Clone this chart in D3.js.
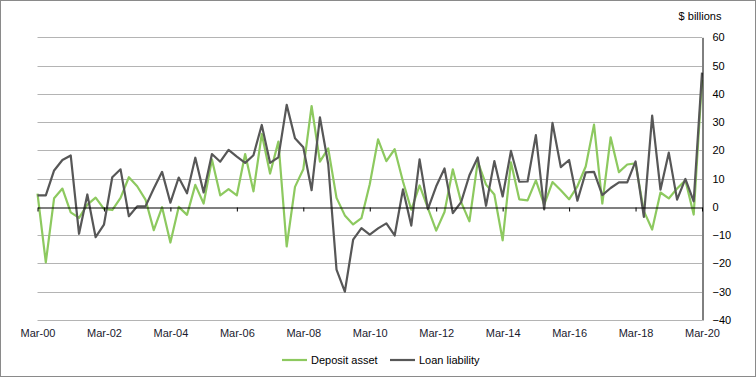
<!DOCTYPE html>
<html>
<head>
<meta charset="utf-8">
<script src="https://cdn.jsdelivr.net/npm/d3@7"></script>
<style>
  body { margin: 0; background: #fff; }
  svg text { font-family: "Liberation Sans", Arial, sans-serif; }
</style>
</head>
<body>
<svg id="chart" width="756" height="378"></svg>
<script>
// quarterly, Mar-00 .. Mar-20
const quarters = [];
for (let yr = 0; yr <= 20; yr++) {
  ["Mar", "Jun", "Sep", "Dec"].forEach(m => {
    if (yr === 20 && m !== "Mar") return;
    quarters.push(m + "-" + String(yr).padStart(2, "0"));
  });
}

const depositAsset = [
  4.7, -19.6, 3.1, 6.5, -1.9, -3.9, 0.8, 3.3, -0.7, -1.1,
  3.2, 10.5, 7.3, 2.6, -8.2, -0.1, -12.6, 0, -2.8, 7.8,
  1.2, 16.8, 4.1, 6.3, 4.1, 18.7, 5.5, 25.8, 11.8, 23.1,
  -14.0, 7.1, 13.3, 35.7, 16.0, 20.7, 3.2, -3.0, -6.2, -4.0,
  8.0, 23.9, 16.2, 20.4, 9.0, -1.0, 7.6, -0.4, -8.4, -1.8,
  13.3, 1.7, -5.1, 16.0, 7.9, 4.4, -11.8, 15.8, 2.7, 2.3,
  9.4, 0.8, 8.8, 5.9, 2.7, 7.3, 14.3, 29.1, 1.2, 24.6,
  12.3, 15.0, 15.4, -1.5, -8.0, 5.1, 3.0, 6.5, 9.4, -2.7,
  45.0
];

const loanLiability = [
  4.1, 4.1, 12.9, 16.6, 18.2, -9.5, 4.4, -10.7, -6.3, 10.5,
  13.3, -3.3, 0.2, 0.2, 6.5, 12.4, 1.5, 10.4, 4.8, 17.4,
  5.1, 18.7, 16.0, 20.2, 17.8, 15.6, 18.3, 29.0, 15.6, 17.5,
  36.1, 24.3, 21.1, 5.9, 31.7, 15.1, -22.2, -30.0, -11.6, -7.5,
  -9.8, -7.6, -5.8, -10.1, 6.2, -6.6, 16.8, -0.8, 7.3, 13.6,
  -2.2, 1.7, 11.2, 17.5, 0.4, 16.2, 3.7, 19.8, 8.9, 9.0,
  25.4, -0.9, 29.7, 14.1, 16.6, 2.2, 12.2, 12.4, 4.2, 6.7,
  8.7, 8.7, 16.1, -3.5, 32.3, 6.1, 19.2, 2.6, 9.9, 2.0,
  47.5
];

const yTicks = [-40, -30, -20, -10, 0, 10, 20, 30, 40, 50, 60];

const series = [
  { name: "Deposit asset", values: depositAsset, color: "#8dc95f" },
  { name: "Loan liability", values: loanLiability, color: "#575757" }
];

const svg = d3.select("#chart");
const plotLeft = 37.5, plotRight = 702, plotTop = 37.3, plotBottom = 320;

const x = d3.scalePoint().domain(quarters).range([plotLeft, plotRight]);
const y = d3.scaleLinear().domain([-40, 60]).range([plotBottom, plotTop]);

// frame
svg.append("rect")
  .attr("x", 0.5).attr("y", 0.5)
  .attr("width", 755).attr("height", 376)
  .attr("fill", "none").attr("stroke", "#8a8a8a");

// gridlines
svg.append("g")
  .selectAll("line")
  .data(yTicks.filter(d => d !== 0))
  .join("line")
  .attr("x1", plotLeft).attr("x2", plotRight)
  .attr("y1", d => Math.round(y(d)) + 0.5)
  .attr("y2", d => Math.round(y(d)) + 0.5)
  .attr("stroke", "#b4b4b4");

// lines
const line = d3.line()
  .x((d, i) => x(quarters[i]))
  .y(d => y(d));

svg.append("g")
  .selectAll("path")
  .data(series)
  .join("path")
  .attr("d", d => line(d.values))
  .attr("fill", "none")
  .attr("stroke", d => d.color)
  .attr("stroke-width", 2.2)
  .attr("stroke-linejoin", "round");

// zero axis with ticks
const labelQuarters = quarters.filter((q, i) => i % 8 === 0);
const zeroAxis = svg.append("g")
  .attr("transform", `translate(0,${Math.round(y(0)) + 0.5})`)
  .call(d3.axisBottom(x).tickValues(labelQuarters).tickSize(4).tickSizeOuter(0).tickFormat(""));
zeroAxis.select(".domain").attr("stroke", "#000").attr("stroke-width", 1.2);
zeroAxis.selectAll(".tick line").attr("stroke", "#000");

// bottom labels
const labelAxis = svg.append("g")
  .attr("transform", `translate(0,${plotBottom})`)
  .call(d3.axisBottom(x).tickValues(labelQuarters).tickSize(0).tickPadding(9));
labelAxis.select(".domain").remove();
labelAxis.selectAll("text")
  .attr("font-size", 11)
  .attr("font-family", "Liberation Sans, Arial, sans-serif")
  .attr("fill", "#1a1a2e");

// right axis
const rightAxis = svg.append("g")
  .attr("transform", `translate(${plotRight + 0.5},0)`)
  .call(d3.axisRight(y).tickValues(yTicks).tickSize(0).tickPadding(10).tickSizeOuter(0));
rightAxis.select(".domain").attr("stroke", "#000");
rightAxis.selectAll("text")
  .attr("font-size", 11)
  .attr("font-family", "Liberation Sans, Arial, sans-serif")
  .attr("fill", "#000");

svg.append("text")
  .attr("x", 700).attr("y", 20)
  .attr("text-anchor", "middle")
  .attr("font-size", 11)
  .attr("fill", "#000")
  .text("$ billions");

// legend
const legendX = [282, 390];
const legend = svg.append("g")
  .selectAll("g")
  .data(series)
  .join("g")
  .attr("transform", (d, i) => `translate(${legendX[i]},360)`);
legend.append("line")
  .attr("x1", 0).attr("x2", 25)
  .attr("stroke", d => d.color)
  .attr("stroke-width", 2.2);
legend.append("text")
  .attr("x", 29).attr("y", 4)
  .attr("font-size", 11)
  .attr("fill", "#000")
  .text(d => d.name);
</script>
</body>
</html>
